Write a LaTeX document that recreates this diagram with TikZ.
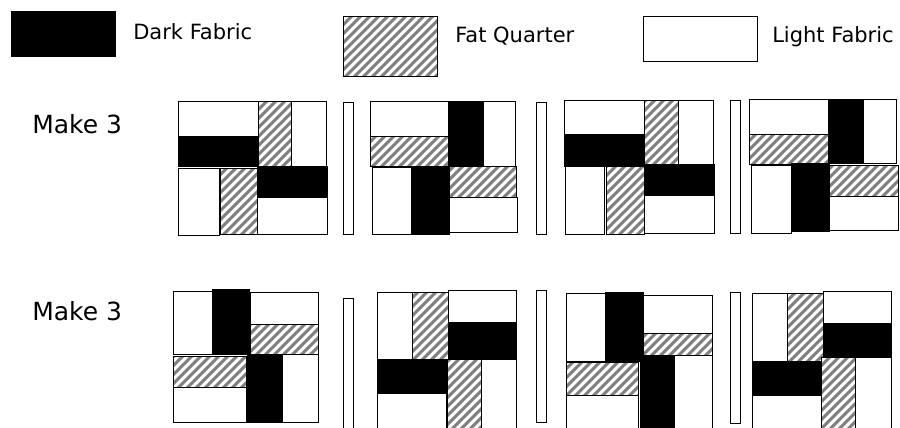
\documentclass[tikz,border=0pt]{standalone}
\usepackage{fontspec}
\setmainfont{DejaVu Sans}
\definecolor{hatchgray}{RGB}{128,128,128}
\tikzset{
  edge/.style={draw=black, line width=0.75pt},
  ltbox/.style={edge, fill=white},
  dkbox/.style={edge, fill=black},
  hline/.style={draw=hatchgray, line width=2.3pt},
  legtext/.style={anchor=base west, inner sep=0pt, font=\fontsize{15.75}{18}\selectfont},
  maketext/.style={anchor=base west, inner sep=0pt, font=\fontsize{18.75}{22}\selectfont},
}
\newcommand\LtR[4]{\path[ltbox] (#1,#2) rectangle (#3,#4);}
\newcommand\DkR[4]{\path[dkbox] (#1,#2) rectangle (#3,#4);}
\newcommand\HtR[4]{%
  \begin{scope}
    \clip (#1,#2) rectangle (#3,#4);
    \fill[white] (#1,#2) rectangle (#3,#4);
    \foreach \k in {-50,...,100} \draw[hline] (\k*9,440) -- ++(450,-450);
  \end{scope}
  \path[edge] (#1,#2) rectangle (#3,#4);}
\begin{document}
\begin{tikzpicture}[x=0.75pt,y=-0.75pt]
\useasboundingbox (0,0) rectangle (900,428);
\fill[white] (0,0) rectangle (900,428);
\begin{scope}
\clip (0,0) rectangle (900,428);
% legend
\DkR{11}{12}{115}{57}
\HtR{343}{17}{437}{77}
\LtR{643}{17}{757}{62}
\node[legtext] (tdark) at (133,39.3) {Dark Fabric};
\node[legtext] (tfat) at (455,42.7) {Fat Quarter};
\node[legtext] (tlight) at (772,42.7) {Light Fabric};
\node[maketext] (make1) at (32,133.3) {Make 3};
\node[maketext] (make2) at (32,320.7) {Make 3};
% row 1 block 1
\LtR{178}{102}{258}{136}
\DkR{178}{136}{258}{166}
\HtR{258}{102}{291}{166}
\LtR{291}{102}{326}{166}
\LtR{178}{168}{219}{235}
\HtR{220}{168}{257}{234}
\DkR{257}{166}{327}{197}
\LtR{257}{197}{327}{234}
\LtR{343}{103}{353}{234}
% row 1 block 2
\LtR{370}{102}{448}{136}
\HtR{370}{136}{448}{166}
\DkR{448}{102}{483}{166}
\LtR{483}{102}{515}{166}
\LtR{372}{167}{411}{234}
\DkR{411}{166}{449}{234}
\HtR{449}{166}{516}{197}
\LtR{449}{197}{517}{232}
\LtR{536}{103}{546}{234}
% row 1 block 3
\LtR{564}{101}{644}{134}
\DkR{564}{134}{644}{166}
\HtR{644}{101}{678}{166}
\LtR{678}{101}{713}{164}
\LtR{565}{166}{604}{234}
\HtR{606}{166}{644}{234}
\DkR{644}{164}{714}{195}
\LtR{644}{195}{714}{233}
\LtR{730}{101}{740}{233}
% row 1 block 4
\LtR{749}{100}{828}{134}
\HtR{749}{134}{828}{164}
\DkR{828}{100}{863}{163}
\LtR{863}{100}{896}{163}
\LtR{751}{165}{791}{233}
\DkR{791}{163}{829}{231}
\HtR{829}{165}{898}{196}
\LtR{829}{196}{898}{230}
% row 2 block 1
\LtR{173}{291}{212}{354}
\DkR{212}{289}{249}{354}
\LtR{250}{292}{318}{324}
\HtR{250}{324}{318}{354}
\HtR{173}{356}{246}{387}
\LtR{173}{387}{246}{422}
\DkR{247}{354}{282}{422}
\LtR{282}{354}{318}{422}
\LtR{343}{298}{353}{432}
% row 2 block 2
\LtR{377}{292}{412}{359}
\HtR{412}{292}{448}{359}
\LtR{448}{290}{516}{322}
\DkR{448}{322}{516}{359}
\DkR{377}{360}{446}{393}
\LtR{377}{393}{446}{435}
\HtR{447}{359}{481}{435}
\LtR{481}{359}{516}{435}
\LtR{536}{290}{546}{422}
% row 2 block 3
\LtR{566}{293}{605}{361}
\DkR{605}{292}{643}{361}
\LtR{643}{295}{712}{333}
\HtR{643}{333}{712}{355}
\HtR{566}{362}{638}{395}
\LtR{566}{395}{638}{435}
\DkR{640}{355}{674}{435}
\LtR{674}{355}{712}{435}
\LtR{730}{292}{740}{423}
% row 2 block 4
\LtR{752}{293}{787}{361}
\HtR{787}{293}{823}{361}
\LtR{823}{291}{891}{323}
\DkR{823}{323}{891}{361}
\DkR{752}{361}{822}{395}
\LtR{752}{395}{822}{435}
\HtR{821}{357}{855}{435}
\LtR{855}{357}{891}{435}
\end{scope}
\end{tikzpicture}
\end{document}
